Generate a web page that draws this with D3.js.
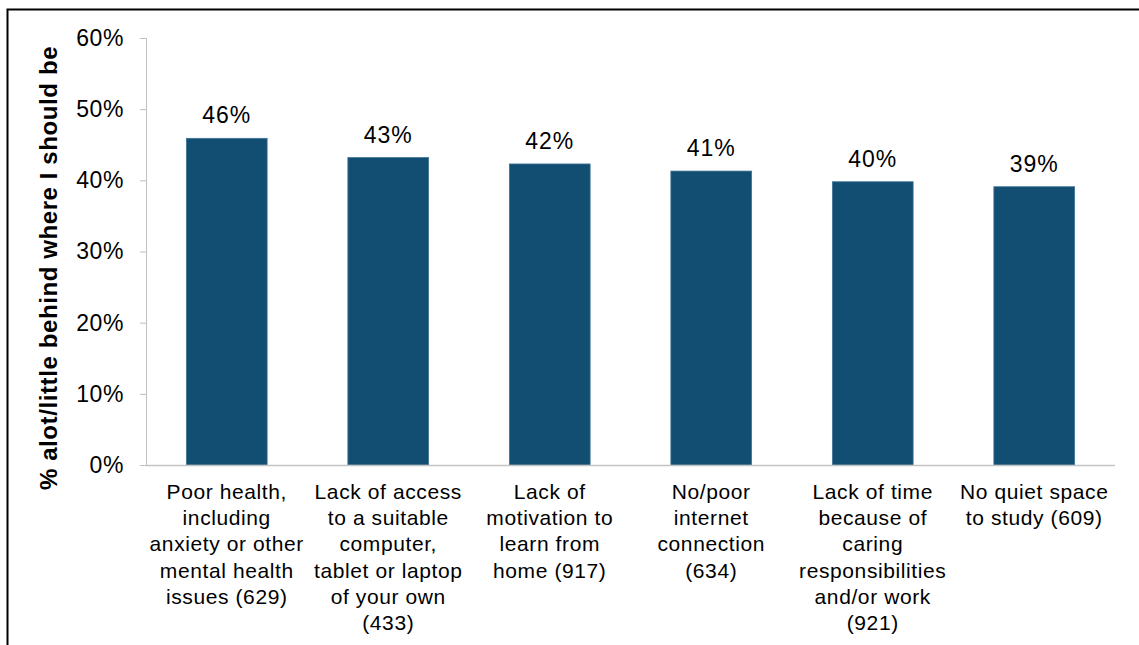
<!DOCTYPE html>
<html>
<head>
<meta charset="utf-8">
<script src="https://cdn.jsdelivr.net/npm/d3@7"></script>
<style>
  html, body { margin: 0; padding: 0; background: #fff; }
  svg { display: block; }
  text { font-family: "Liberation Sans", Arial, sans-serif; fill: #000; }
</style>
</head>
<body>
<svg id="chart" width="1139" height="645"></svg>
<script>
// Barrier categories, each label split into its printed lines
const categories = [
  ["Poor health,", "including", "anxiety or other", "mental health", "issues (629)"],
  ["Lack of access", "to a suitable", "computer,", "tablet or laptop", "of your own", "(433)"],
  ["Lack of", "motivation to", "learn from", "home (917)"],
  ["No/poor", "internet", "connection", "(634)"],
  ["Lack of time", "because of", "caring", "responsibilities", "and/or work", "(921)"],
  ["No quiet space", "to study (609)"]
];
// Share of students reporting they are a lot / a little behind
const values = [0.459, 0.432, 0.423, 0.413, 0.398, 0.391];
const yTicks = [0, 0.1, 0.2, 0.3, 0.4, 0.5, 0.6];
const yTitle = "% alot/little behind where I should be";

const svg = d3.select("#chart");
const W = 1139, H = 645;

// Outer frame
svg.append("rect")
  .attr("x", 7.5).attr("y", 9.5)
  .attr("width", W + 10).attr("height", H + 10)
  .attr("fill", "none").attr("stroke", "#000").attr("stroke-width", 2);

const plotLeft = 146, plotRight = 1115, plotTop = 38, plotBottom = 465;

const x = d3.scaleBand()
  .domain(d3.range(categories.length))
  .range([plotLeft, plotRight])
  .paddingInner(0.5).paddingOuter(0.25);

const y = d3.scaleLinear().domain([0, 0.6]).range([plotBottom, plotTop]);

// Y axis
const yAxis = svg.append("g")
  .attr("transform", `translate(${plotLeft},0)`)
  .call(d3.axisLeft(y).tickValues(yTicks).tickFormat(d3.format(".0%")).tickSize(6).tickPadding(16));
yAxis.select(".domain").attr("stroke", "#bfbfbf");
yAxis.selectAll(".tick line").attr("stroke", "#bfbfbf");
yAxis.selectAll(".tick text")
  .attr("font-size", 23).attr("letter-spacing", 0.6)
  .style("font-family", "'Liberation Sans', Arial, sans-serif").attr("fill", "#000");

// Bars
svg.append("g").selectAll("rect")
  .data(values)
  .join("rect")
  .attr("x", (d, i) => x(i))
  .attr("y", d => y(d))
  .attr("width", x.bandwidth())
  .attr("height", d => y(0) - y(d))
  .attr("fill", "#124e72")
  .attr("stroke", "#3f7396").attr("stroke-width", 0.8);

// X axis baseline
svg.append("line")
  .attr("x1", plotLeft).attr("x2", plotRight)
  .attr("y1", plotBottom + 0.5).attr("y2", plotBottom + 0.5)
  .attr("stroke", "#c4c4c4").attr("stroke-width", 1.5);

// Value labels
svg.append("g").selectAll("text")
  .data(values)
  .join("text")
  .attr("x", (d, i) => x(i) + x.bandwidth() / 2)
  .attr("y", d => y(d) - 15)
  .attr("text-anchor", "middle")
  .attr("font-size", 23).attr("letter-spacing", 1)
  .text(d => d3.format(".0%")(d));

// Category labels
const catG = svg.append("g").selectAll("text")
  .data(categories)
  .join("text")
  .attr("text-anchor", "middle")
  .attr("font-size", 21).attr("letter-spacing", 0.6)
  .attr("transform", (d, i) => `translate(${x(i) + x.bandwidth() / 2},499)`);
catG.selectAll("tspan")
  .data(d => d)
  .join("tspan")
  .attr("x", 0)
  .attr("dy", (d, j) => j === 0 ? 0 : 26.2)
  .text(d => d);

// Y axis title
svg.append("text")
  .attr("transform", `translate(57,268) rotate(-90)`)
  .attr("text-anchor", "middle")
  .attr("font-size", 24).attr("font-weight", "bold").attr("letter-spacing", 0.6)
  .text(yTitle);
</script>
</body>
</html>
